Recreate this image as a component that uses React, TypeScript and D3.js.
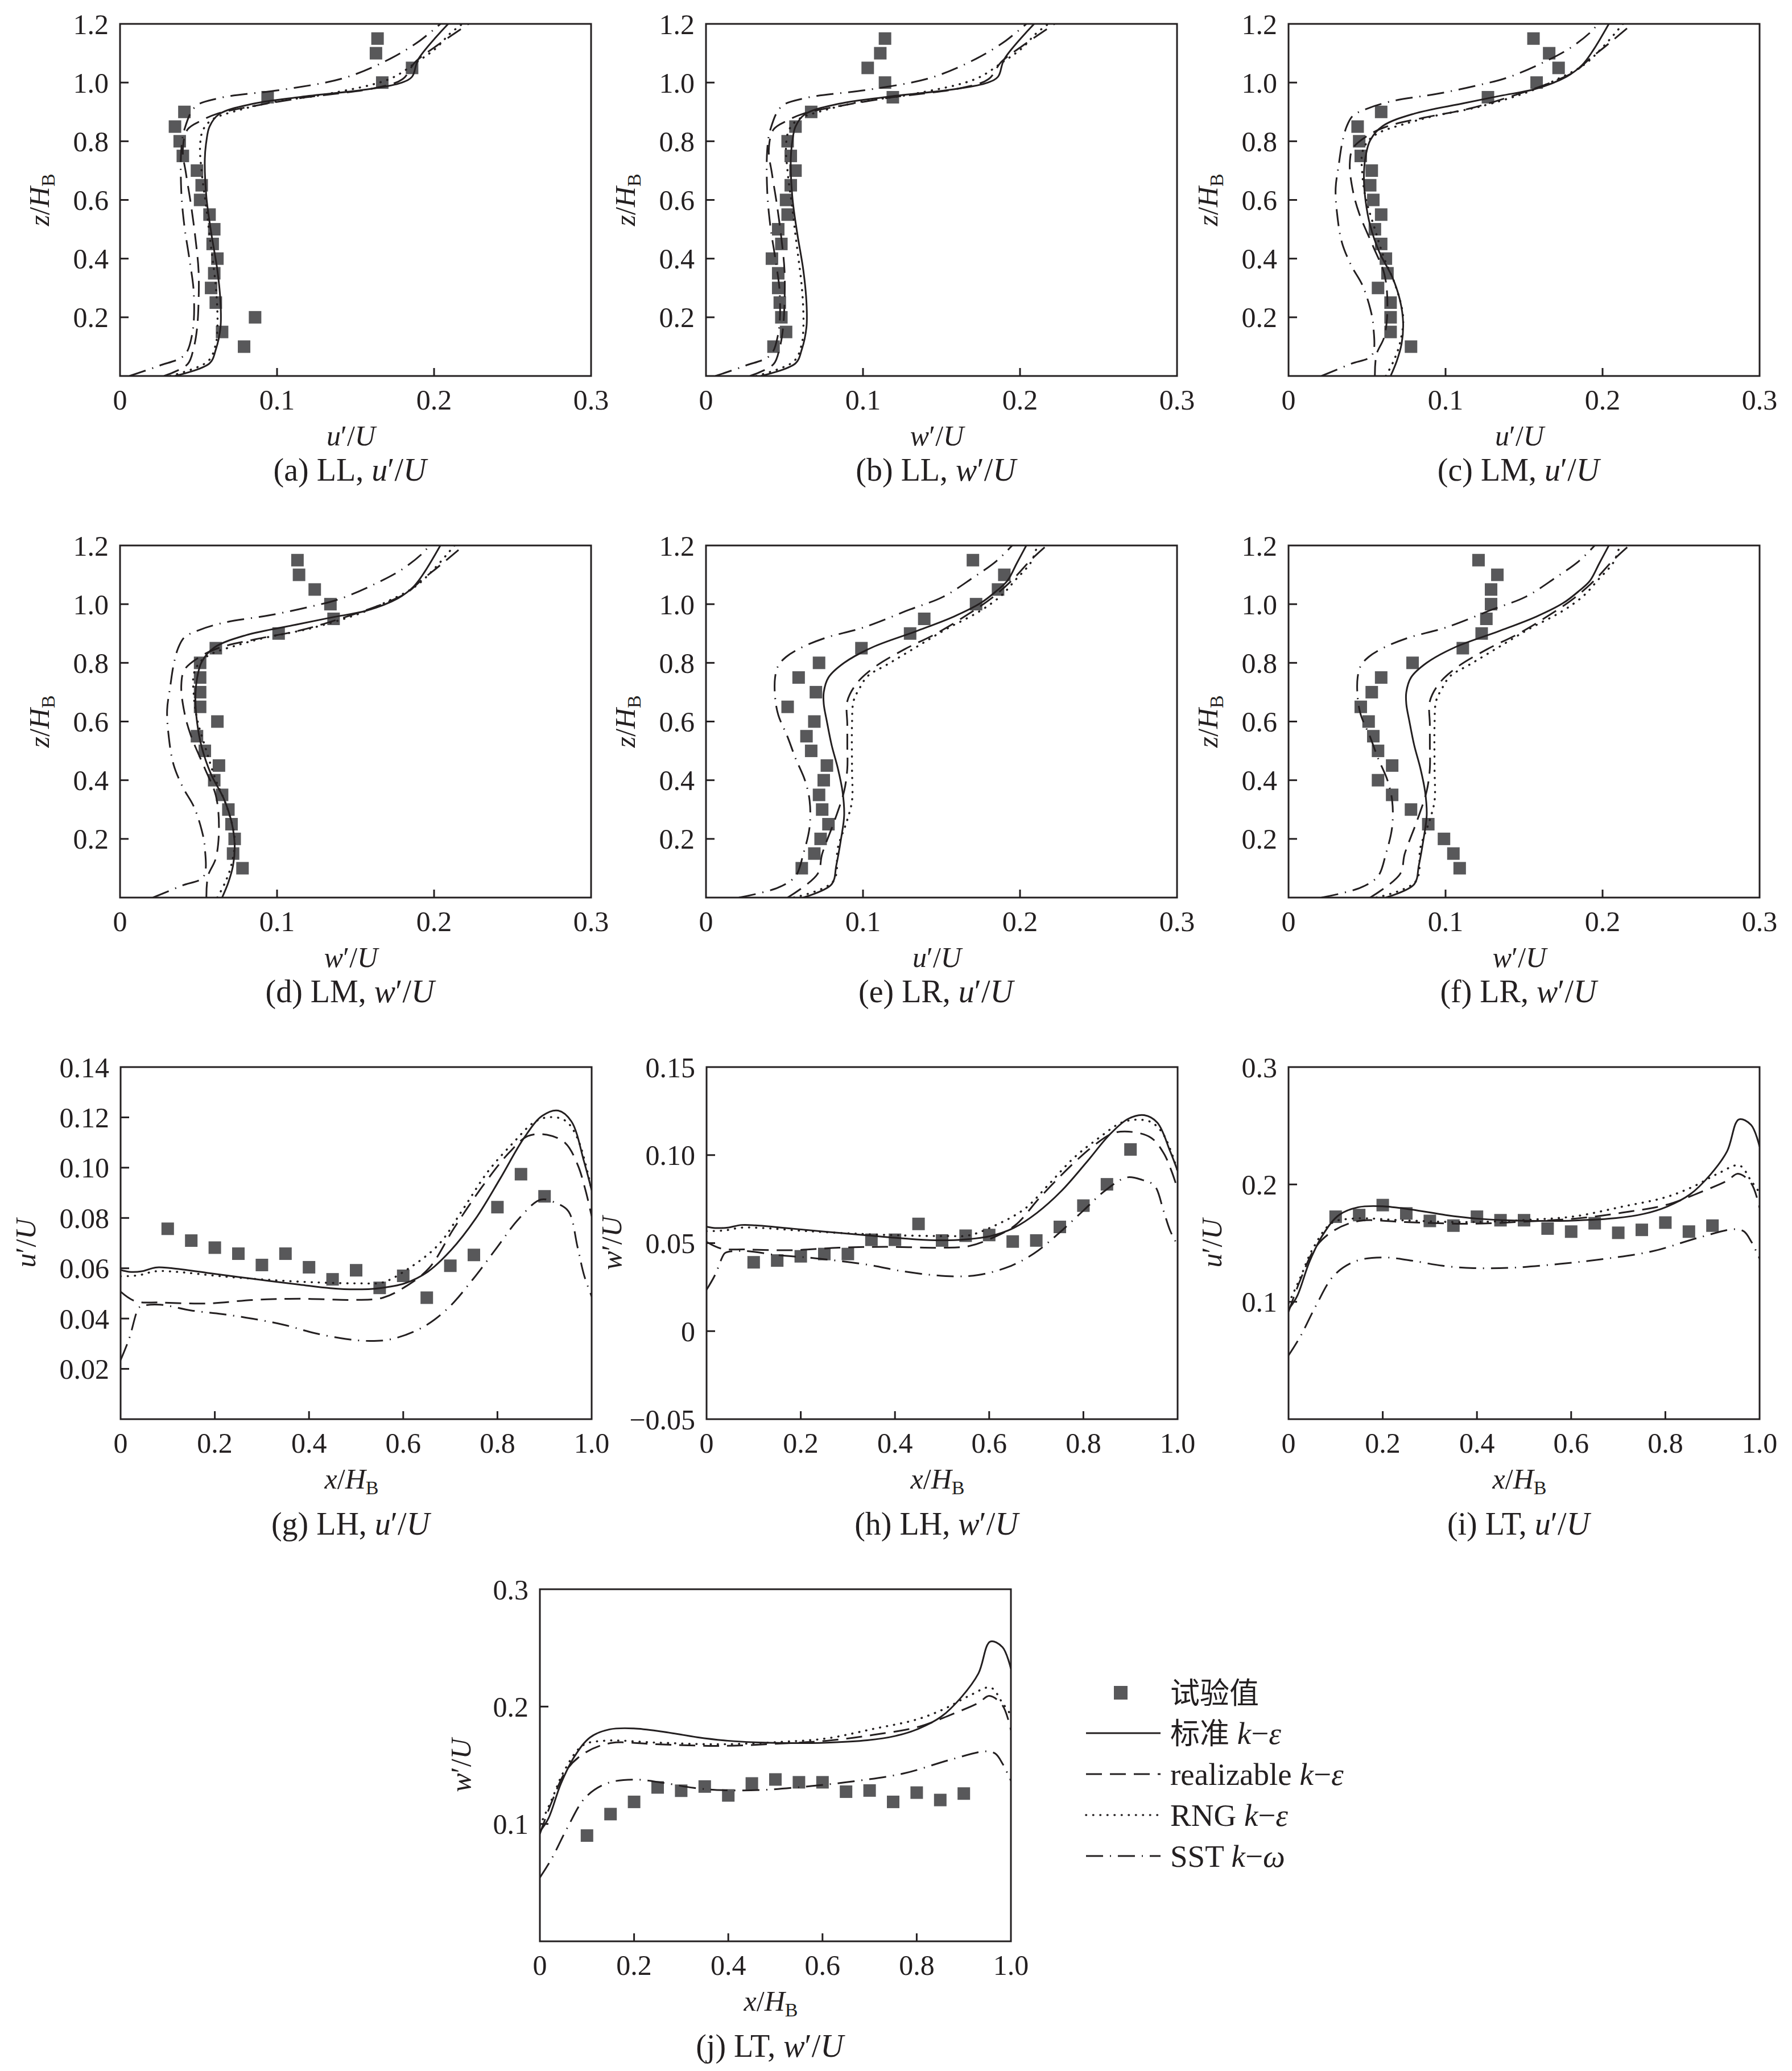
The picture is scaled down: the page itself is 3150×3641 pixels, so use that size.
import React from 'react';
import * as d3 from 'd3';

type P = [number, number];

// ---------- LL (panels a, b): [value, z/H_B] ----------
const LL_std: P[] = [[0.035,0],[0.057,0.043],[0.061,0.09],[0.064,0.167],[0.064,0.25],[0.062,0.36],[0.058,0.49],[0.055,0.61],[0.054,0.74],[0.055,0.80],[0.057,0.85],[0.063,0.892],[0.085,0.928],[0.115,0.951],[0.159,0.978],[0.179,0.999],[0.186,1.02],[0.190,1.08],[0.209,1.2]];
const LL_real: P[] = [[0.028,0],[0.043,0.04],[0.047,0.098],[0.049,0.16],[0.050,0.25],[0.050,0.36],[0.048,0.47],[0.045,0.59],[0.042,0.69],[0.040,0.77],[0.043,0.84],[0.052,0.871],[0.062,0.894],[0.086,0.921],[0.115,0.947],[0.163,0.982],[0.180,1.012],[0.188,1.07],[0.201,1.123],[0.222,1.2]];
const LL_rng: P[] = [[0.032,0],[0.056,0.05],[0.061,0.109],[0.062,0.163],[0.062,0.22],[0.061,0.305],[0.059,0.396],[0.057,0.48],[0.055,0.572],[0.052,0.695],[0.051,0.787],[0.053,0.84],[0.059,0.875],[0.073,0.902],[0.096,0.932],[0.134,0.963],[0.172,1.013],[0.189,1.07],[0.201,1.116],[0.210,1.166],[0.218,1.2]];
const LL_sst: P[] = [[0.006,0],[0.025,0.035],[0.041,0.071],[0.046,0.144],[0.047,0.28],[0.044,0.405],[0.041,0.51],[0.039,0.63],[0.039,0.77],[0.041,0.84],[0.048,0.918],[0.063,0.947],[0.105,0.977],[0.143,1.016],[0.172,1.081],[0.191,1.143],[0.204,1.2]];
const LL_u_exp: P[] = [[0.164,1.15],[0.163,1.10],[0.186,1.05],[0.167,1.00],[0.094,0.95],[0.041,0.90],[0.035,0.85],[0.038,0.80],[0.040,0.75],[0.049,0.70],[0.052,0.65],[0.051,0.60],[0.057,0.55],[0.060,0.50],[0.059,0.45],[0.062,0.40],[0.060,0.35],[0.058,0.30],[0.061,0.25],[0.086,0.20],[0.065,0.15],[0.079,0.10]];
const LL_w_exp: P[] = [[0.114,1.15],[0.111,1.10],[0.103,1.05],[0.114,1.00],[0.119,0.95],[0.067,0.90],[0.057,0.85],[0.052,0.80],[0.054,0.75],[0.057,0.70],[0.054,0.65],[0.051,0.60],[0.052,0.55],[0.046,0.50],[0.048,0.45],[0.042,0.40],[0.046,0.35],[0.046,0.30],[0.047,0.25],[0.048,0.20],[0.051,0.15],[0.043,0.10]];

// ---------- LM (panels c, d) ----------
const LM_std: P[] = [[0.065,0],[0.069,0.052],[0.072,0.11],[0.073,0.18],[0.071,0.258],[0.066,0.338],[0.058,0.42],[0.052,0.513],[0.049,0.60],[0.048,0.68],[0.049,0.745],[0.052,0.803],[0.060,0.852],[0.080,0.894],[0.112,0.93],[0.135,0.955],[0.157,0.978],[0.177,1.02],[0.187,1.06],[0.194,1.11],[0.204,1.2]];
const LM_real: P[] = [[0.055,0],[0.056,0.073],[0.061,0.134],[0.063,0.241],[0.061,0.348],[0.054,0.44],[0.045,0.554],[0.041,0.631],[0.039,0.722],[0.041,0.776],[0.050,0.818],[0.063,0.851],[0.086,0.88],[0.115,0.911],[0.140,0.95],[0.169,1.004],[0.183,1.04],[0.192,1.082],[0.201,1.12],[0.219,1.2]];
const LM_rng: P[] = [[0.062,0],[0.067,0.052],[0.071,0.113],[0.073,0.2],[0.068,0.31],[0.061,0.40],[0.055,0.50],[0.049,0.61],[0.047,0.69],[0.047,0.762],[0.051,0.803],[0.058,0.83],[0.072,0.856],[0.092,0.885],[0.121,0.917],[0.153,0.969],[0.171,1.011],[0.188,1.06],[0.200,1.12],[0.213,1.2]];
const LM_sst: P[] = [[0.021,0],[0.040,0.042],[0.053,0.07],[0.054,0.17],[0.052,0.23],[0.047,0.31],[0.040,0.376],[0.034,0.455],[0.031,0.55],[0.030,0.64],[0.032,0.72],[0.034,0.79],[0.037,0.85],[0.041,0.887],[0.051,0.913],[0.067,0.938],[0.094,0.961],[0.120,0.99],[0.140,1.018],[0.162,1.068],[0.180,1.12],[0.193,1.175],[0.197,1.2]];
const LM_u_exp: P[] = [[0.156,1.15],[0.166,1.10],[0.172,1.05],[0.158,1.00],[0.127,0.95],[0.059,0.90],[0.044,0.85],[0.045,0.80],[0.046,0.75],[0.053,0.70],[0.052,0.65],[0.054,0.60],[0.059,0.55],[0.055,0.50],[0.059,0.45],[0.062,0.40],[0.063,0.35],[0.057,0.30],[0.065,0.25],[0.065,0.20],[0.065,0.15],[0.078,0.10]];
const LM_w_exp: P[] = [[0.113,1.15],[0.114,1.10],[0.124,1.05],[0.134,1.00],[0.136,0.95],[0.101,0.90],[0.061,0.85],[0.051,0.80],[0.051,0.75],[0.051,0.70],[0.051,0.65],[0.062,0.60],[0.049,0.55],[0.054,0.50],[0.063,0.45],[0.060,0.40],[0.065,0.35],[0.069,0.30],[0.071,0.25],[0.073,0.20],[0.072,0.15],[0.078,0.10]];

// ---------- LR (panels e, f) ----------
const LR_std: P[] = [[0.062,0],[0.080,0.045],[0.083,0.11],[0.086,0.2],[0.088,0.28],[0.087,0.36],[0.084,0.44],[0.080,0.52],[0.077,0.6],[0.075,0.66],[0.075,0.70],[0.078,0.75],[0.088,0.80],[0.106,0.853],[0.134,0.908],[0.158,0.958],[0.175,1.004],[0.185,1.045],[0.192,1.08],[0.198,1.14],[0.204,1.2]];
const LR_real: P[] = [[0.052,0],[0.071,0.08],[0.074,0.149],[0.082,0.264],[0.088,0.363],[0.090,0.44],[0.090,0.52],[0.090,0.59],[0.090,0.669],[0.096,0.73],[0.107,0.784],[0.126,0.845],[0.146,0.898],[0.165,0.959],[0.182,1.021],[0.195,1.082],[0.207,1.151],[0.217,1.2]];
const LR_rng: P[] = [[0.056,0],[0.081,0.055],[0.084,0.17],[0.090,0.265],[0.093,0.33],[0.093,0.44],[0.093,0.59],[0.094,0.67],[0.098,0.715],[0.103,0.755],[0.115,0.793],[0.134,0.854],[0.153,0.915],[0.174,0.975],[0.188,1.029],[0.197,1.082],[0.207,1.143],[0.211,1.2]];
const LR_sst: P[] = [[0.021,0],[0.046,0.034],[0.057,0.073],[0.062,0.149],[0.066,0.241],[0.066,0.33],[0.063,0.4],[0.057,0.475],[0.052,0.547],[0.046,0.623],[0.044,0.684],[0.044,0.75],[0.046,0.79],[0.051,0.82],[0.060,0.85],[0.076,0.885],[0.100,0.92],[0.130,0.982],[0.151,1.025],[0.170,1.09],[0.185,1.147],[0.195,1.2]];
const LR_u_exp: P[] = [[0.170,1.15],[0.190,1.10],[0.186,1.05],[0.172,1.00],[0.139,0.95],[0.130,0.90],[0.099,0.85],[0.072,0.80],[0.059,0.75],[0.070,0.70],[0.052,0.65],[0.069,0.60],[0.064,0.55],[0.067,0.50],[0.077,0.45],[0.075,0.40],[0.072,0.35],[0.074,0.30],[0.078,0.25],[0.073,0.20],[0.069,0.15],[0.061,0.10]];
const LR_w_exp: P[] = [[0.121,1.15],[0.133,1.10],[0.129,1.05],[0.129,1.00],[0.126,0.95],[0.123,0.90],[0.111,0.85],[0.079,0.80],[0.059,0.75],[0.053,0.70],[0.046,0.65],[0.051,0.60],[0.054,0.55],[0.057,0.50],[0.066,0.45],[0.057,0.40],[0.066,0.35],[0.078,0.30],[0.089,0.25],[0.099,0.20],[0.105,0.15],[0.109,0.10]];

// ---------- LH (panels g, h): [x/H_B, value] ----------
const LH_std: P[] = [[0,0.0593],[0.018,0.0586],[0.045,0.0588],[0.074,0.0603],[0.104,0.0601],[0.183,0.0582],[0.281,0.0558],[0.38,0.0535],[0.445,0.0521],[0.498,0.0516],[0.55,0.0521],[0.603,0.054],[0.652,0.0586],[0.701,0.0671],[0.754,0.0798],[0.806,0.0957],[0.856,0.1117],[0.895,0.1206],[0.929,0.1227],[0.957,0.1184],[0.984,0.1023],[1.0,0.091]];
const LH_real: P[] = [[0,0.0507],[0.031,0.0469],[0.084,0.0464],[0.183,0.046],[0.281,0.0474],[0.38,0.0479],[0.498,0.0474],[0.557,0.0483],[0.603,0.0525],[0.655,0.0601],[0.708,0.076],[0.773,0.0938],[0.825,0.106],[0.865,0.1126],[0.905,0.1131],[0.944,0.1098],[0.97,0.1013],[0.987,0.091],[1.0,0.0807]];
const LH_rng: P[] = [[0,0.0568],[0.038,0.0572],[0.074,0.0588],[0.117,0.0586],[0.215,0.0568],[0.314,0.0554],[0.412,0.0544],[0.511,0.054],[0.557,0.0544],[0.609,0.0596],[0.675,0.0694],[0.727,0.0835],[0.78,0.0985],[0.833,0.1098],[0.879,0.1182],[0.911,0.1201],[0.944,0.1187],[0.97,0.1117],[1.0,0.091]];
const LH_sst: P[] = [[0,0.0235],[0.018,0.0319],[0.038,0.0441],[0.045,0.045],[0.084,0.0455],[0.15,0.0432],[0.215,0.0418],[0.281,0.0399],[0.347,0.0375],[0.412,0.0342],[0.478,0.0319],[0.53,0.0311],[0.577,0.0319],[0.642,0.0366],[0.695,0.0441],[0.747,0.0554],[0.8,0.0685],[0.846,0.0798],[0.892,0.0873],[0.925,0.0859],[0.951,0.0826],[0.97,0.0685],[0.984,0.0572],[1.0,0.0488]];
const LH_u_exp: P[] = [[0.10,0.0757],[0.15,0.0710],[0.20,0.0682],[0.25,0.0658],[0.30,0.0613],[0.35,0.0658],[0.40,0.0604],[0.45,0.0556],[0.50,0.0592],[0.55,0.0522],[0.60,0.0570],[0.65,0.0483],[0.70,0.0610],[0.75,0.0653],[0.80,0.0843],[0.85,0.0974],[0.90,0.0886]];
const LH_w_exp: P[] = [[0.10,0.0391],[0.15,0.0401],[0.20,0.0425],[0.25,0.0438],[0.30,0.0438],[0.35,0.0519],[0.40,0.0519],[0.45,0.0609],[0.50,0.0515],[0.55,0.0542],[0.60,0.0546],[0.65,0.0509],[0.70,0.0515],[0.75,0.0592],[0.80,0.0713],[0.85,0.0834],[0.90,0.1032]];

// ---------- LT (panels i, j) ----------
const LT_std: P[] = [[0,0.0935],[0.018,0.1046],[0.045,0.1347],[0.074,0.1578],[0.107,0.1739],[0.148,0.1806],[0.199,0.1814],[0.261,0.1786],[0.334,0.1739],[0.399,0.1709],[0.458,0.1695],[0.524,0.1689],[0.609,0.1693],[0.695,0.1713],[0.754,0.1749],[0.803,0.181],[0.852,0.1914],[0.895,0.2081],[0.931,0.2282],[0.956,0.2554],[0.982,0.2507],[1.0,0.2322]];
const LT_real: P[] = [[0,0.0915],[0.025,0.1186],[0.058,0.1468],[0.097,0.1609],[0.15,0.1689],[0.248,0.1679],[0.38,0.1665],[0.511,0.1685],[0.609,0.1709],[0.708,0.1759],[0.806,0.183],[0.872,0.193],[0.931,0.2031],[0.954,0.2091],[0.982,0.2011],[1.0,0.18]];
const LT_rng: P[] = [[0,0.0985],[0.025,0.1206],[0.051,0.1448],[0.091,0.1669],[0.137,0.1709],[0.248,0.1693],[0.38,0.1679],[0.511,0.1699],[0.609,0.1729],[0.708,0.181],[0.8,0.189],[0.859,0.1981],[0.911,0.2091],[0.957,0.2162],[0.982,0.2031],[1.0,0.193]];
const LT_sst: P[] = [[0,0.0543],[0.025,0.0704],[0.058,0.0965],[0.097,0.1227],[0.143,0.1347],[0.202,0.1378],[0.261,0.1351],[0.327,0.1307],[0.393,0.1287],[0.478,0.1291],[0.576,0.1323],[0.675,0.1368],[0.774,0.1432],[0.872,0.1548],[0.947,0.1619],[0.967,0.1599],[0.983,0.1508],[1.0,0.1368]];
const LT_u_exp: P[] = [[0.10,0.1725],[0.15,0.1739],[0.20,0.1824],[0.25,0.1753],[0.30,0.1689],[0.35,0.1649],[0.40,0.1725],[0.45,0.1695],[0.50,0.1695],[0.55,0.1624],[0.60,0.1598],[0.65,0.1669],[0.70,0.1588],[0.75,0.1613],[0.80,0.1675],[0.85,0.1598],[0.90,0.1649]];
const LT_w_exp: P[] = [[0.10,0.0901],[0.15,0.1084],[0.20,0.1188],[0.25,0.1311],[0.30,0.1283],[0.35,0.1319],[0.40,0.1243],[0.45,0.1345],[0.50,0.1379],[0.55,0.1355],[0.60,0.1355],[0.65,0.1275],[0.70,0.1285],[0.75,0.1188],[0.80,0.1267],[0.85,0.1204],[0.90,0.1259]];

// ---------- ticks ----------
const profXTicks = [0, 0.1, 0.2, 0.3];
const profXLabels = ['0', '0.1', '0.2', '0.3'];
const profZTicks = [0.2, 0.4, 0.6, 0.8, 1.0, 1.2];
const profZLabels = ['0.2', '0.4', '0.6', '0.8', '1.0', '1.2'];
const horXTicks = [0, 0.2, 0.4, 0.6, 0.8, 1.0];
const horXLabels = ['0', '0.2', '0.4', '0.6', '0.8', '1.0'];
const gYTicks = [0.02, 0.04, 0.06, 0.08, 0.10, 0.12, 0.14];
const gYLabels = ['0.02', '0.04', '0.06', '0.08', '0.10', '0.12', '0.14'];
const hYTicks = [-0.05, 0, 0.05, 0.10, 0.15];
const hYLabels = ['\u22120.05', '0', '0.05', '0.10', '0.15'];
const tYTicks = [0.1, 0.2, 0.3];
const tYLabels = ['0.1', '0.2', '0.3'];

const legendLabels = ['试验值', '标准', 'realizable', 'RNG', 'SST'];

const INK = '#231f20';
const MARK = '#58585a';
const SERIF = '"Liberation Serif", "Times New Roman", serif';
const CJK = '"Noto Sans CJK SC", "Noto Sans CJK JP", sans-serif';
const FS = 50;
const CAP_FS = 56;
const PW = 828;
const PH = 619;

const seriesStyle: Record<string, { dash?: string; cap?: string; width: number }> = {
  std: { width: 3 },
  real: { dash: '28 14', width: 3 },
  rng: { dash: '0.5 12', cap: 'round', width: 3.6 },
  sst: { dash: '30 12 2 12', width: 3 },
};

type Kind = 'u' | 'w' | 'z' | 'x';

function Lbl({ kind, sub = 34 }: { kind: Kind; sub?: number }) {
  if (kind === 'u' || kind === 'w') {
    return (
      <>
        <tspan fontStyle="italic">{kind}</tspan>
        <tspan>′/</tspan>
        <tspan fontStyle="italic">U</tspan>
      </>
    );
  }
  return (
    <>
      <tspan fontStyle="italic">{kind}</tspan>
      <tspan>/</tspan>
      <tspan fontStyle="italic">H</tspan>
      <tspan fontSize={sub} dy={10}>B</tspan>
    </>
  );
}

interface PanelProps {
  id: string;
  x0: number;
  y0: number;
  xDomain: [number, number];
  yDomain: [number, number];
  xTicks: number[];
  xLabels: string[];
  yTicks: number[];
  yLabels: string[];
  xTitle: Kind;
  yTitle: Kind;
  yTitleOff: number;
  caption: string;
  capKind: Kind;
  capOff: number;
  curves: { key: string; data: P[] }[];
  points: P[];
}

function Panel(p: PanelProps) {
  const xs = d3.scaleLinear().domain(p.xDomain).range([p.x0, p.x0 + PW]);
  const ys = d3.scaleLinear().domain(p.yDomain).range([p.y0 + PH, p.y0]);
  const line = d3
    .line<P>()
    .x((d) => xs(d[0]))
    .y((d) => ys(d[1]))
    .curve(d3.curveCatmullRom.alpha(0.5));
  const bottom = p.y0 + PH;
  const cx = p.x0 + PW / 2;
  const clipId = `clip-${p.id}`;
  const sq = 22;
  return (
    <g>
      <defs>
        <clipPath id={clipId}>
          <rect x={p.x0} y={p.y0} width={PW} height={PH} />
        </clipPath>
      </defs>
      <g clipPath={`url(#${clipId})`}>
        {p.points.map((d, i) => (
          <rect key={i} x={xs(d[0]) - sq / 2} y={ys(d[1]) - sq / 2} width={sq} height={sq} fill={MARK} />
        ))}
        {p.curves.map((c) => {
          const s = seriesStyle[c.key];
          return (
            <path
              key={c.key}
              d={line(c.data) || ''}
              fill="none"
              stroke={INK}
              strokeWidth={s.width}
              strokeDasharray={s.dash}
              strokeLinecap={(s.cap as any) || 'butt'}
              strokeLinejoin="round"
            />
          );
        })}
      </g>
      <rect x={p.x0} y={p.y0} width={PW} height={PH} fill="none" stroke={INK} strokeWidth={3} />
      {p.xTicks.map((t, i) => (
        <g key={'xt' + i}>
          {t > p.xDomain[0] && t < p.xDomain[1] && (
            <line x1={xs(t)} x2={xs(t)} y1={bottom} y2={bottom - 14} stroke={INK} strokeWidth={3} />
          )}
          <text x={xs(t)} y={bottom + 59} textAnchor="middle" fontSize={FS} fontFamily={SERIF} fill={INK}>
            {p.xLabels[i]}
          </text>
        </g>
      ))}
      {p.yTicks.map((t, i) => (
        <g key={'yt' + i}>
          {t > p.yDomain[0] && t < p.yDomain[1] && (
            <line x1={p.x0} x2={p.x0 + 15} y1={ys(t)} y2={ys(t)} stroke={INK} strokeWidth={3} />
          )}
          <text x={p.x0 - 20} y={ys(t)} dy="0.35em" textAnchor="end" fontSize={FS} fontFamily={SERIF} fill={INK}>
            {p.yLabels[i]}
          </text>
        </g>
      ))}
      <text x={cx - 8} y={bottom + 122} textAnchor="middle" fontSize={FS} fontFamily={SERIF} fill={INK}>
        <Lbl kind={p.xTitle} />
      </text>
      <text
        transform={`translate(${p.x0 - p.yTitleOff},${p.y0 + PH / 2}) rotate(-90)`}
        textAnchor="middle"
        fontSize={FS}
        fontFamily={SERIF}
        fill={INK}
      >
        <Lbl kind={p.yTitle} />
      </text>
      <text x={cx - 10} y={bottom + p.capOff} textAnchor="middle" fontSize={CAP_FS} fontFamily={SERIF} fill={INK}>
        <tspan>{p.caption}</tspan>
        <Lbl kind={p.capKind} />
      </text>
    </g>
  );
}

function Legend() {
  const x1 = 1909;
  const x2 = 2040;
  const tx = 2057;
  const rows = [3047, 3119, 3191, 3263];
  const keys = ['std', 'real', 'rng', 'sst'];
  const greek = ['ε', 'ε', 'ε', 'ω'];
  const LFS = 55;
  return (
    <g fontFamily={SERIF} fontSize={LFS} fill={INK}>
      <rect x={1970 - 12} y={2976 - 12} width={24} height={24} fill={MARK} />
      <text x={tx} y={2976 + 19} fontFamily={CJK} fontSize={52}>
        {legendLabels[0]}
      </text>
      {keys.map((k, i) => {
        const s = seriesStyle[k];
        const isCjk = i === 0;
        return (
          <g key={k}>
            <line
              x1={x1}
              x2={x2}
              y1={rows[i]}
              y2={rows[i]}
              stroke={INK}
              strokeWidth={s.width}
              strokeDasharray={s.dash}
              strokeLinecap={(s.cap as any) || 'butt'}
            />
            <text x={tx} y={rows[i] + 19}>
              {isCjk ? (
                <tspan fontFamily={CJK} fontSize={52}>{legendLabels[i + 1]}</tspan>
              ) : (
                <tspan>{legendLabels[i + 1]}</tspan>
              )}
              <tspan> </tspan>
              <tspan fontStyle="italic">k</tspan>
              <tspan>−</tspan>
              <tspan fontStyle="italic">{greek[i]}</tspan>
            </text>
          </g>
        );
      })}
    </g>
  );
}

const curvesOf = (std: P[], real: P[], rng: P[], sst: P[]) => [
  { key: 'rng', data: rng },
  { key: 'real', data: real },
  { key: 'sst', data: sst },
  { key: 'std', data: std },
];

export default function App() {
  const colX = [211, 1241, 2265];
  const rowY = [42, 959, 1876];
  const prof = {
    xDomain: [0, 0.3] as [number, number],
    yDomain: [0, 1.2] as [number, number],
    xTicks: profXTicks,
    xLabels: profXLabels,
    yTicks: profZTicks,
    yLabels: profZLabels,
    yTitle: 'z' as Kind,
    yTitleOff: 125,
    capOff: 184,
  };
  const hor = {
    xDomain: [0, 1] as [number, number],
    xTicks: horXTicks,
    xLabels: horXLabels,
    xTitle: 'x' as Kind,
    capOff: 203,
  };
  const panels: PanelProps[] = [
    { ...prof, id: 'a', x0: colX[0], y0: rowY[0], xTitle: 'u', caption: '(a) LL, ', capKind: 'u', curves: curvesOf(LL_std, LL_real, LL_rng, LL_sst), points: LL_u_exp },
    { ...prof, id: 'b', x0: colX[1], y0: rowY[0], xTitle: 'w', caption: '(b) LL, ', capKind: 'w', curves: curvesOf(LL_std, LL_real, LL_rng, LL_sst), points: LL_w_exp },
    { ...prof, id: 'c', x0: colX[2], y0: rowY[0], xTitle: 'u', caption: '(c) LM, ', capKind: 'u', curves: curvesOf(LM_std, LM_real, LM_rng, LM_sst), points: LM_u_exp },
    { ...prof, id: 'd', x0: colX[0], y0: rowY[1], xTitle: 'w', caption: '(d) LM, ', capKind: 'w', curves: curvesOf(LM_std, LM_real, LM_rng, LM_sst), points: LM_w_exp },
    { ...prof, id: 'e', x0: colX[1], y0: rowY[1], xTitle: 'u', caption: '(e) LR, ', capKind: 'u', curves: curvesOf(LR_std, LR_real, LR_rng, LR_sst), points: LR_u_exp },
    { ...prof, id: 'f', x0: colX[2], y0: rowY[1], xTitle: 'w', caption: '(f) LR, ', capKind: 'w', curves: curvesOf(LR_std, LR_real, LR_rng, LR_sst), points: LR_w_exp },
    { ...hor, id: 'g', x0: 212, y0: rowY[2], yDomain: [0, 0.14], yTicks: gYTicks, yLabels: gYLabels, yTitle: 'u', yTitleOff: 150, caption: '(g) LH, ', capKind: 'u', curves: curvesOf(LH_std, LH_real, LH_rng, LH_sst), points: LH_u_exp },
    { ...hor, id: 'h', x0: 1242, y0: rowY[2], yDomain: [-0.05, 0.15], yTicks: hYTicks, yLabels: hYLabels, yTitle: 'w', yTitleOff: 150, caption: '(h) LH, ', capKind: 'w', curves: curvesOf(LH_std, LH_real, LH_rng, LH_sst), points: LH_w_exp },
    { ...hor, id: 'i', x0: 2265, y0: rowY[2], yDomain: [0, 0.3], yTicks: tYTicks, yLabels: tYLabels, yTitle: 'u', yTitleOff: 118, caption: '(i) LT, ', capKind: 'u', curves: curvesOf(LT_std, LT_real, LT_rng, LT_sst), points: LT_u_exp },
    { ...hor, id: 'j', x0: 949, y0: 2794, yDomain: [0, 0.3], yTicks: tYTicks, yLabels: tYLabels, yTitle: 'w', yTitleOff: 122, caption: '(j) LT, ', capKind: 'w', curves: curvesOf(LT_std, LT_real, LT_rng, LT_sst), points: LT_w_exp },
  ];
  return (
    <div style={{ position: 'absolute', left: 0, top: 0, width: 3150, height: 3641, background: '#fff' }}>
      <svg width={3150} height={3641} viewBox="0 0 3150 3641" style={{ display: 'block' }}>
        <rect x={0} y={0} width={3150} height={3641} fill="#fff" />
        {panels.map((p) => (
          <Panel key={p.id} {...p} />
        ))}
        <Legend />
      </svg>
    </div>
  );
}
